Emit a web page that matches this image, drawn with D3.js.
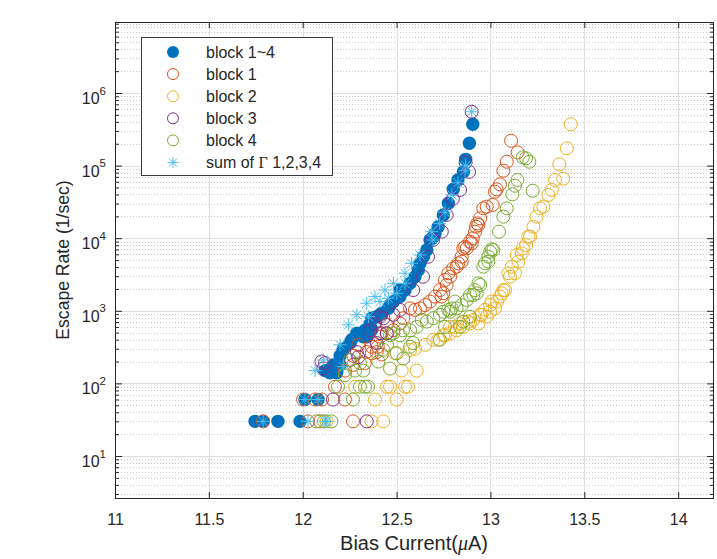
<!DOCTYPE html>
<html>
<head>
<meta charset="utf-8">
<script src="https://cdn.jsdelivr.net/npm/d3@7"></script>
<style>
  html, body { margin: 0; padding: 0; background: #fff; }
  svg { display: block; }
  text { font-family: "Liberation Sans", Arial, Helvetica, sans-serif; fill: #262626; }
</style>
</head>
<body>
<div id="chart"></div>
<script>
// ---------------- DATA ([bias current µA, escape rate 1/sec]) ----------------
const block14 = [
  [11.746,30],[11.789,30],[11.868,30],[11.986,30],
  [12.012,60],[12.082,60],
  [12.119,150],[12.128,150],[12.145,140],[12.163,180],[12.181,140],[12.199,180],[12.199,240],
  [12.216,290],[12.216,300],[12.252,360],[12.261,400],[12.288,490],[12.323,440],[12.332,540],
  [12.343,440],[12.359,670],[12.368,550],[12.368,790],[12.394,830],[12.412,880],[12.421,925],
  [12.456,1080],[12.465,1200],[12.483,1340],[12.518,1570],[12.518,1930],[12.545,1930],
  [12.572,2390],[12.598,2950],[12.616,3650],[12.625,4510],[12.643,5560],[12.661,6880],
  [12.678,9450],[12.696,10500],[12.705,11500],[12.722,14400],[12.749,20900],[12.776,30300],
  [12.802,47200],[12.827,63400],[12.856,82400],[12.868,122000],[12.888,203000],[12.906,371000]
];
const block1 = [
  [11.789,30],[12.028,30],[12.092,30],[12.268,30],
  [12.002,60],[12.066,60],[12.103,60],[12.225,60],
  [12.172,90],
  [12.225,150],[12.270,180],[12.270,240],[12.296,340],[12.330,190],[12.340,270],[12.368,260],
  [12.368,320],[12.394,270],[12.400,320],[12.421,250],[12.412,440],[12.420,490],[12.447,640],
  [12.448,490],[12.483,540],[12.518,670],[12.536,790],[12.572,1080],[12.598,1030],[12.625,1080],
  [12.652,1200],[12.678,1340],[12.705,1570],[12.731,1930],[12.740,1570],[12.749,1740],
  [12.758,2660],[12.767,2270],[12.776,3290],[12.785,2950],[12.802,3840],[12.820,4050],
  [12.829,4510],[12.847,4750],[12.847,5560],[12.855,7260],[12.865,7640],[12.874,7260],
  [12.891,8960],[12.900,8500],[12.906,9970],[12.918,12300],[12.923,14400],[12.930,16000],
  [12.936,15200],[12.945,18800],[12.962,25800],[12.980,27200],[13.012,28700],[13.024,43700],
  [13.033,47200],[13.051,55200],[13.069,85100],[13.087,113000],[13.145,152000],[13.110,220000]
];
const block2 = [
  [12.127,30],[12.367,30],[12.429,30],
  [12.385,60],[12.500,60],
  [12.279,90],[12.449,90],[12.465,90],[12.545,90],[12.561,90],
  [12.527,150],[12.607,150],
  [12.492,260],[12.572,290],[12.598,300],[12.652,340],[12.696,400],[12.722,400],[12.749,460],
  [12.758,460],[12.785,490],[12.785,600],[12.811,600],[12.820,540],[12.838,670],[12.856,600],
  [12.882,710],[12.891,670],[12.909,750],[12.936,670],[12.945,880],[12.953,880],[12.971,1030],
  [12.980,830],[12.998,1200],[12.998,970],[13.007,1340],[13.024,1080],[13.035,1340],
  [13.051,1570],[13.060,1740],[13.069,1930],[13.078,1930],[13.095,3290],[13.104,2950],
  [13.114,4050],[13.131,3290],[13.140,5870],[13.149,4750],[13.167,6190],[13.172,7260],
  [13.190,8060],[13.202,10500],[13.211,10500],[13.229,14400],[13.246,19800],[13.264,25800],
  [13.282,27200],[13.309,39400],[13.327,46200],[13.344,63400],[13.388,66000],[13.367,104000],
  [13.407,173000],[13.428,371000]
];
const block3 = [
  [12.341,30],[12.161,60],
  [12.110,160],[12.100,200],[12.119,190],[12.250,210],[12.288,270],[12.296,230],[12.359,540],
  [12.385,670],[12.394,360],[12.412,490],[12.412,830],[12.430,790],[12.448,490],[12.483,880],
  [12.518,1030],[12.589,1930],[12.641,2950],[12.668,5560],[12.694,9450],[12.741,12300],
  [12.767,20900],[12.800,35000],[12.838,46200],[12.868,110000],[12.886,82000],[12.900,552000]
];
const block4 = [
  [12.073,30],[12.113,30],[12.153,30],
  [12.268,60],
  [12.188,90],[12.305,90],[12.332,90],[12.348,90],
  [12.225,130],[12.279,150],[12.323,150],[12.305,190],[12.252,210],[12.403,200],[12.465,160],
  [12.536,220],[12.501,260],[12.430,290],[12.449,340],[12.572,320],[12.588,360],[12.465,460],
  [12.483,490],[12.518,460],[12.534,540],[12.572,540],[12.607,600],[12.634,750],[12.661,710],
  [12.696,790],[12.731,400],[12.731,880],[12.749,970],[12.758,600],[12.776,1030],[12.785,970],
  [12.794,1080],[12.811,1340],[12.820,1080],[12.838,600],[12.847,1200],[12.855,710],
  [12.874,1410],[12.891,830],[12.891,1650],[12.909,1650],[12.918,1930],[12.927,1740],
  [12.936,2390],[12.945,2270],[12.962,4050],[12.971,4510],[12.989,4750],[12.989,5560],
  [12.998,6510],[13.007,7030],[13.016,6880],[13.046,12300],[13.069,19800],[13.087,25800],
  [13.117,40200],[13.131,52800],[13.144,63400],[13.172,130000],[13.190,126000],[13.207,113000],
  [13.225,45100]
];
const sumGamma = [
  [11.789,30],[12.028,30],[12.119,30],[12.129,30],
  [12.012,60],[12.082,60],
  [12.066,150],[12.110,210],[12.199,340],[12.216,170],[12.243,640],[12.288,880],[12.341,1270],
  [12.350,830],[12.385,1570],[12.412,1340],[12.438,1930],[12.456,1490],[12.483,2390],
  [12.501,1740],[12.545,2390],[12.545,3290],[12.580,4510],[12.625,5870],[12.687,12300],
  [12.694,9450],[12.730,16000],[12.758,22800],[12.795,39400],[12.827,58000],[12.865,85100],
  [12.868,100000],[12.900,552000]
];
const xTicks = [11, 11.5, 12, 12.5, 13, 13.5, 14];
const yTickExps = [1, 2, 3, 4, 5, 6];
const legendLabels = ["block 1~4", "block 1", "block 2", "block 3", "block 4", "sum of Γ 1,2,3,4"];

// ---------------- LAYOUT ----------------
const W = 717, H = 559;
const L = 115, R = 714, T = 22, B = 498;
const colors = { b14: "#0072BD", b1: "#D95319", b2: "#EDB120", b3: "#7E2F8E", b4: "#77AC30", sum: "#4DBEEE" };

const svg = d3.select("#chart").append("svg").attr("width", W).attr("height", H);
svg.append("rect").attr("width", W).attr("height", H).attr("fill", "#fff");

const x = d3.scaleLinear().domain([11, 14.191]).range([L, R]);
const y = d3.scaleLog().domain([Math.pow(10, 0.4215), Math.pow(10, 6.978)]).range([B, T]);

// grid
const grid = svg.append("g");
const minorVals = [];
for (let d = 0; d <= 6; d++) for (let m = 2; m <= 9; m++) {
  const v = m * Math.pow(10, d);
  if (v > y.domain()[0] && v < y.domain()[1]) minorVals.push(v);
}
grid.selectAll(".ymin").data(minorVals).join("line")
  .attr("x1", L).attr("x2", R)
  .attr("y1", d => Math.round(y(d)) + 0.5).attr("y2", d => Math.round(y(d)) + 0.5)
  .attr("stroke", "#c8c8c8").attr("stroke-width", 1).attr("stroke-dasharray", "1,2");
grid.selectAll(".ymaj").data(yTickExps.map(e => Math.pow(10, e))).join("line")
  .attr("x1", L).attr("x2", R)
  .attr("y1", d => Math.round(y(d)) + 0.5).attr("y2", d => Math.round(y(d)) + 0.5)
  .attr("stroke", "#dedede").attr("stroke-width", 1);
grid.selectAll(".xmaj").data(xTicks.filter(v => v > 11)).join("line")
  .attr("y1", T).attr("y2", B)
  .attr("x1", d => Math.round(x(d)) + 0.5).attr("x2", d => Math.round(x(d)) + 0.5)
  .attr("stroke", "#dedede").attr("stroke-width", 1);

// axes via d3 axes (ticks inward)
const axisColor = "#262626";
function styleAxis(g) {
  g.select(".domain").remove();
  g.selectAll(".tick line").attr("stroke", axisColor);
}
const xBottom = svg.append("g").attr("transform", `translate(0,${B})`)
  .call(d3.axisBottom(x).tickValues(xTicks).tickSize(-6).tickFormat(d3.format("")).tickPadding(16));
styleAxis(xBottom);
xBottom.selectAll(".tick text").attr("font-size", 16).attr("fill", axisColor)
  .attr("font-family", "Liberation Sans, Arial, sans-serif");
const xTop = svg.append("g").attr("transform", `translate(0,${T})`)
  .call(d3.axisTop(x).tickValues(xTicks).tickSize(-6).tickFormat(""));
styleAxis(xTop);

const yMajor = yTickExps.map(e => Math.pow(10, e));
const yLeft = svg.append("g").attr("transform", `translate(${L},0)`)
  .call(d3.axisLeft(y).tickValues(yMajor).tickSize(-7).tickFormat(""));
styleAxis(yLeft);
const yLeftMinor = svg.append("g").attr("transform", `translate(${L},0)`)
  .call(d3.axisLeft(y).tickValues(minorVals).tickSize(-4).tickFormat(""));
styleAxis(yLeftMinor);
const yRight = svg.append("g").attr("transform", `translate(${R},0)`)
  .call(d3.axisRight(y).tickValues(yMajor).tickSize(-7).tickFormat(""));
styleAxis(yRight);
const yRightMinor = svg.append("g").attr("transform", `translate(${R},0)`)
  .call(d3.axisRight(y).tickValues(minorVals).tickSize(-4).tickFormat(""));
styleAxis(yRightMinor);

// y tick labels 10^n
const ylab = svg.append("g");
yTickExps.forEach(e => {
  const t = ylab.append("text").attr("x", 106).attr("y", y(Math.pow(10, e)) + 11)
    .attr("text-anchor", "end").attr("font-size", 16).attr("fill", axisColor).text("10");
  t.append("tspan").attr("dy", -9.5).attr("font-size", 11.5).text(e);
});

// box
svg.append("rect").attr("x", L + 0.5).attr("y", T + 0.5).attr("width", R - L - 1).attr("height", B - T)
  .attr("fill", "none").attr("stroke", axisColor).attr("stroke-width", 1);

// axis labels
const xl = svg.append("text").attr("x", 414).attr("y", 550).attr("text-anchor", "middle")
  .attr("font-size", 20).attr("fill", axisColor);
xl.append("tspan").text("Bias Current(");
xl.append("tspan").attr("font-style", "italic").attr("font-family", "Liberation Serif, Times New Roman, serif").text("μ");
xl.append("tspan").text("A)");
svg.append("text").attr("transform", `translate(69,${(T + B) / 2}) rotate(-90)`)
  .attr("text-anchor", "middle").attr("font-size", 17.6).attr("fill", axisColor)
  .text("Escape Rate (1/sec)");

// ---------------- MARKERS ----------------
const plot = svg.append("g");
const R0 = 6.5;
function circles(data, color, filled) {
  plot.append("g").selectAll("circle").data(data).join("circle")
    .attr("cx", d => x(d[0])).attr("cy", d => y(d[1]))
    .attr("r", filled ? 6.7 : R0)
    .attr("fill", filled ? color : "none")
    .attr("stroke", filled ? "none" : color).attr("stroke-width", 1);
}
function starPath(r) {
  const a = r * Math.SQRT1_2;
  return `M${-r},0L${r},0M0,${-r}L0,${r}M${-a},${-a}L${a},${a}M${-a},${a}L${a},${-a}`;
}
circles(block14, colors.b14, true);
circles(block1, colors.b1, false);
circles(block2, colors.b2, false);
circles(block3, colors.b3, false);
circles(block4, colors.b4, false);
plot.append("g").selectAll("path").data(sumGamma).join("path")
  .attr("transform", d => `translate(${x(d[0])},${y(d[1])})`)
  .attr("d", starPath(6.5)).attr("fill", "none")
  .attr("stroke", colors.sum).attr("stroke-width", 1);

// ---------------- LEGEND ----------------
const lg = svg.append("g");
lg.append("rect").attr("x", 141.5).attr("y", 37.5).attr("width", 191).attr("height", 138)
  .attr("fill", "#fff").attr("stroke", "#3c3c3c").attr("stroke-width", 1);
const legendKeys = ["b14", "b1", "b2", "b3", "b4", "sum"];
legendKeys.forEach((k, i) => {
  const cy = 52 + i * 22.1;
  if (k === "b14") {
    lg.append("circle").attr("cx", 173).attr("cy", cy).attr("r", 6).attr("fill", colors[k]);
  } else if (k === "sum") {
    lg.append("path").attr("transform", `translate(173,${cy})`).attr("d", starPath(5.5))
      .attr("stroke", colors[k]).attr("fill", "none").attr("stroke-width", 1);
  } else {
    lg.append("circle").attr("cx", 173).attr("cy", cy).attr("r", 5.5)
      .attr("fill", "none").attr("stroke", colors[k]).attr("stroke-width", 1);
  }
  const t = lg.append("text").attr("x", 206).attr("y", cy + 5.5).attr("font-size", 16).attr("fill", "#000");
  if (k === "sum") {
    t.append("tspan").text("sum of ");
    t.append("tspan").attr("font-family", "Liberation Serif, Times New Roman, serif").text("Γ");
    t.append("tspan").text(" 1,2,3,4");
  } else {
    t.text(legendLabels[i]);
  }
});
</script>
</body>
</html>
